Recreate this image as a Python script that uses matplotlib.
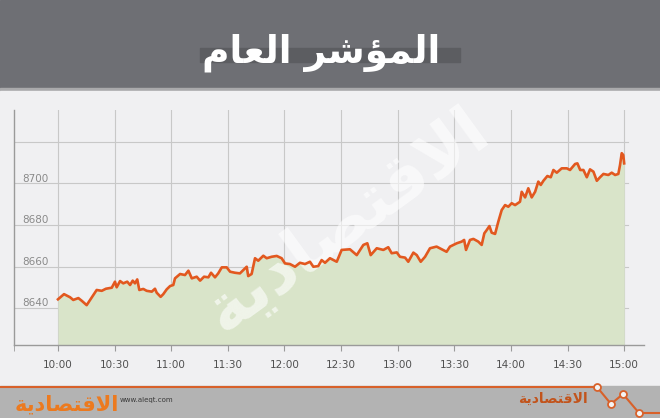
import matplotlib.pyplot as plt
from matplotlib.patches import Rectangle
from matplotlib.lines import Line2D

# minutes after 10:00 and index value
minutes = [0, 3.2, 6.4, 8.1, 10.8, 12.6, 15.2, 17, 20.5, 23.2, 25.4, 28.5, 30.2, 31.1,
           32.9, 34.6, 36.7, 38.2, 39.6, 40.8, 42, 43.1, 45.2, 47, 49.7, 51.4, 52.3,
           54.4, 55.8, 57.6, 59.4, 61.1, 62, 64.7, 67.3, 69.1, 70.9, 73.5, 75.3, 77.4,
           79.7, 81.1, 83.2, 84.9, 86.8, 89.4, 91.2, 93.8, 96.4, 100, 100.8, 102.6,
           104.4, 106.1, 108.8, 110.6, 113.2, 115.9, 118.5, 120.3, 122.9, 125.6, 128.2,
           130.9, 133.5, 135.3, 137.9, 139.7, 141.5, 144.1, 147.7, 150.3, 154.7, 158.3,
           161.8, 163.9, 165.7, 168.9, 172.4, 175, 176.8, 179.5, 181.2, 183.9, 185.6,
           188.3, 190.1, 192.2, 194.5, 197.1, 200.6, 203.3, 205.9, 207.7, 211.3, 213.9,
           215.2, 216.2, 218.3, 220.1, 222.7, 224.5, 225.9, 227.2, 228.6, 229.8, 231.6,
           233.3, 235.1, 236.9, 238.6, 240.4, 242.2, 244.8, 245.7, 247.5, 249.2, 251,
           252.8, 254.5, 255.8, 257.2, 259.3, 261.1, 262.5, 264.3, 266.9, 269.6, 271.3,
           274, 275.2, 276.7, 278.4, 280.2, 281.9, 283.7, 285.5, 287.2, 289, 291.6,
           293.4, 295.2, 296.9, 297.8, 298.7, 299.5, 300]
values = [8644.2, 8646.7, 8645.2, 8643.9, 8644.8, 8643.5, 8641.4, 8643.9, 8648.7, 8648.3,
          8649.3, 8649.8, 8652.7, 8650, 8653, 8651.9, 8652.7, 8651.1, 8653.2, 8651.9,
          8653.8, 8648.7, 8649.2, 8648.3, 8647.9, 8649.3, 8647.4, 8645.4, 8646.7, 8649,
          8650.6, 8651.1, 8654.3, 8656.4, 8655.9, 8658, 8654.3, 8655.1, 8653.2, 8655.1,
          8654.8, 8657, 8654.8, 8656.7, 8659.6, 8659.6, 8657.5, 8657, 8656.7, 8659.9,
          8655.4, 8656.4, 8664, 8662.8, 8665.2, 8664, 8664.7, 8665.1, 8664, 8661.5,
          8661.2, 8659.9, 8661.8, 8661.2, 8662.3, 8659.9, 8660.2, 8663.1, 8661.8, 8664,
          8662.3, 8668, 8668.3, 8665.5, 8670.4, 8671.2, 8665.5, 8668.8, 8668, 8669.3,
          8666.4, 8666.8, 8664.7, 8664.3, 8662.3, 8666.7, 8665.5, 8662.3, 8664.7, 8668.8,
          8669.6, 8668.3, 8667.1, 8669.6, 8671.2, 8672, 8672.8, 8668, 8672.8, 8673.3,
          8672, 8670.4, 8676, 8677.6, 8679.5, 8676.3, 8675.7, 8681.6, 8687.2, 8689.6,
          8688.8, 8690.5, 8689.6, 8691.2, 8696, 8693.3, 8697.7, 8693.3, 8696, 8700.9,
          8699.3, 8701.3, 8703.6, 8703, 8706.5, 8705.2, 8707.3, 8707.3, 8706.5, 8709.4,
          8709.7, 8706.5, 8706.5, 8703, 8706.8, 8705.7, 8701.3, 8703, 8704.6, 8704.1,
          8705.2, 8704.1, 8704.6, 8708.9, 8714.6, 8713.7, 8709.7]

tick_minutes = [0, 30, 60, 90, 120, 150, 180, 210, 240, 270, 300]
tick_labels = ['10:00', '10:30', '11:00', '11:30', '12:00', '12:30',
               '13:00', '13:30', '14:00', '14:30', '15:00']
grid_levels = [8640, 8660, 8680, 8700, 8720]
level_labels = ['8640', '8660', '8680', '8700']

# Arabic text in presentation forms, visual (left-to-right) order
title = '\uFEE1\uFE8E\uFECC\uFEDF\uFE8D \uFEAE\uFEB7\uFE86\uFEE4\uFEDF\uFE8D'   # المؤشر العام
paper = '\uFE94\uFEF3\uFEA9\uFE8E\uFEBC\uFE98\uFED7\uFEFB\uFE8D'               # الاقتصادية

fig = plt.figure(figsize=(6.6, 4.18), dpi=100)
W, H = 660, 418

def box(x0, y0, x1, y1, color, z=-5):
    # rectangle given in pixels from top-left
    fig.patches.append(Rectangle((x0 / W, 1 - y1 / H), (x1 - x0) / W, (y1 - y0) / H,
                                 transform=fig.transFigure, color=color, zorder=z))

box(0, 0, W, 88, '#6e6f74')
box(0, 88, W, 91, '#a9a9ab')
box(0, 91, W, 386, '#f0f0f2')
box(0, 386, W, H, '#b3b3b3')
box(200, 48, 460, 62, '#5c5d61', -4)

fig.text(0.487, 0.873, title, color='white', fontsize=27, fontweight='bold',
         ha='center', va='center', zorder=3)

ax = fig.add_axes([14 / W, 73 / H, 630 / W, 235 / H])
ax.set_zorder(2)
ax.set_facecolor('none')
ax.set_xlim(-23.3, 310.5)
ax.set_ylim(8622.2, 8735.4)

for m in tick_minutes:
    ax.axvline(m, color='#c8c8c8', lw=0.8, zorder=1)
for g in grid_levels:
    ax.axhline(g, xmin=0, xmax=0.975, color='#c8c8c8', lw=0.8, zorder=1)
for lab, g in zip(level_labels, grid_levels):
    ax.text(0.013, g + 2.4, lab, transform=ax.get_yaxis_transform(), fontsize=7.5,
            color='#8a8a8a', va='center', ha='left')

ax.fill_between(minutes, values, 8622.2, color='#d9e4c9', zorder=2, lw=0)
ax.text(153, 8682, paper, rotation=36, fontsize=48, fontweight='bold', color='white',
        alpha=0.6, ha='center', va='center', zorder=3)
ax.plot(minutes, values, color='#e2581f', lw=1.9, zorder=4)

for side in ['top', 'right']:
    ax.spines[side].set_visible(False)
for side in ['left', 'bottom']:
    ax.spines[side].set_color('#9a9a9a')
    ax.spines[side].set_linewidth(1)
ax.set_yticks([])
ax.set_xticks(tick_minutes)
ax.set_xticklabels(tick_labels, fontsize=7.5, color='#505050')
ax.set_xticks([-23.3], minor=True)
ax.tick_params(axis='x', which='both', length=4, color='#9a9a9a', pad=7)

# footer decoration
zig_x = [0, 597, 611, 623, 639, 660]
zig_y = [387, 387, 404, 394, 413, 413]
fig.lines.append(Line2D([x / W for x in zig_x], [1 - y / H for y in zig_y],
                        transform=fig.transFigure, color='#d8612a', lw=1.5, zorder=5))
fig.lines.append(Line2D([x / W for x in zig_x[1:5]], [1 - y / H for y in zig_y[1:5]],
                        transform=fig.transFigure, ls='none', marker='o', ms=5,
                        mfc='#f4f4f4', mec='#d8612a', mew=1.3, zorder=6))

fig.text(15 / W, 1 - 404 / H, paper, color='#ec7a1f', fontsize=15, fontweight='bold',
         ha='left', va='center', zorder=5)
fig.text(120 / W, 1 - 400 / H, 'www.aleqt.com', color='#3a3a3a', fontsize=5,
         ha='left', va='center', zorder=5)
fig.text(553 / W, 1 - 399 / H, paper, color='#c2541c', fontsize=10, fontweight='bold',
         ha='center', va='center', zorder=5)

fig.savefig('out.png', dpi=100)
